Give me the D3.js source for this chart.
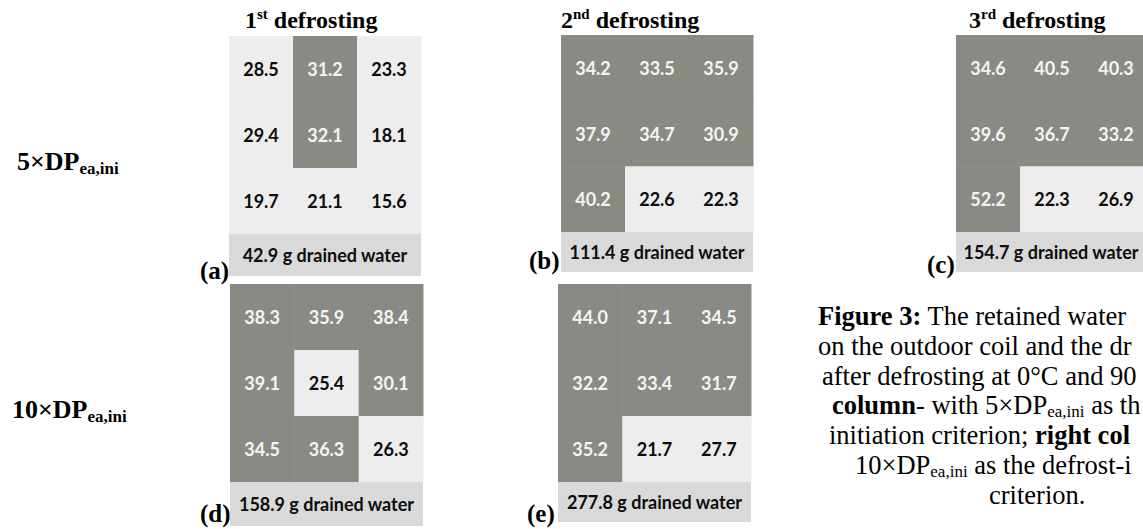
<!DOCTYPE html>
<html>
<head>
<meta charset="utf-8">
<script src="https://cdn.jsdelivr.net/npm/d3@7"></script>
<style>
  html, body { margin: 0; padding: 0; background: #ffffff; }
  svg { display: block; }
</style>
</head>
<body>
<svg id="fig" width="1143" height="529"></svg>
<script>
// Retained water (g) per coil section, rows top to bottom, columns left to right
const retainedA = [[28.5, 31.2, 23.3], [29.4, 32.1, 18.1], [19.7, 21.1, 15.6]];
const retainedB = [[34.2, 33.5, 35.9], [37.9, 34.7, 30.9], [40.2, 22.6, 22.3]];
const retainedC = [[34.6, 40.5, 40.3], [39.6, 36.7, 33.2], [52.2, 22.3, 26.9]];
const retainedD = [[38.3, 35.9, 38.4], [39.1, 25.4, 30.1], [34.5, 36.3, 26.3]];
const retainedE = [[44.0, 37.1, 34.5], [32.2, 33.4, 31.7], [35.2, 21.7, 27.7]];

// Drained water (g) collected after each defrost
const drainedWater = [42.9, 111.4, 154.7, 158.9, 277.8];
const panelLetters = ["a", "b", "c", "d", "e"];

// Column headings and row (criterion) labels
const cycleNumbers = ["1", "2", "3"];
const cycleSuffixes = ["st", "nd", "rd"];
const criterionFactors = ["5×DP", "10×DP"];
const criterionSub = "ea,ini";

// Sections holding 30 g or more are shaded dark
const retainedThreshold = [30];

const retained = [retainedA, retainedB, retainedC, retainedD, retainedE];

const W = 1143;

// Panel frames: left, top, width, grid height, drained-strip height, letter position
const frames = [
  { x: 229, y: 36, w: 192, gh: 198, dh: 42, lx: 200, ly: 279 },
  { x: 561, y: 35, w: 192, gh: 197, dh: 40, lx: 529, ly: 269 },
  { x: 956, y: 35, w: 192, gh: 197, dh: 40, lx: 927, ly: 273 },
  { x: 230, y: 284, w: 193, gh: 198, dh: 44, lx: 200, ly: 522 },
  { x: 558, y: 284, w: 193, gh: 198, dh: 40, lx: 527, ly: 522 }
];

const fill = d3.scaleThreshold().domain(retainedThreshold).range(["#ededed", "#8a8a84"]);
const ink = d3.scaleThreshold().domain(retainedThreshold).range(["#0d0d0d", "#f4f4f4"]);

const svg = d3.select("#fig");
const cellFont = "Lato, 'Open Sans', sans-serif";
const serif = "'Liberation Serif', 'Times New Roman', serif";

retained.forEach((grid, p) => {
  const f = frames[p];
  const x = d3.scaleBand().domain([0, 1, 2]).range([f.x, f.x + f.w]);
  const y = d3.scaleBand().domain([0, 1, 2]).range([f.y, f.y + f.gh]);
  const cells = grid.flatMap((row, r) => row.map((v, c) => ({ r, c, v })));
  const g = svg.append("g").attr("class", "panel-" + panelLetters[p]);

  g.selectAll("rect.cell").data(cells).join("rect")
    .attr("class", "cell")
    .attr("x", d => x(d.c))
    .attr("y", d => y(d.r))
    .attr("width", x.bandwidth() + 0.5)
    .attr("height", y.bandwidth() + 0.5)
    .attr("fill", d => fill(d.v));

  g.selectAll("text.val").data(cells).join("text")
    .attr("class", "val")
    .attr("x", d => x(d.c) + x.bandwidth() / 2)
    .attr("y", d => y(d.r) + y.bandwidth() / 2)
    .attr("text-anchor", "middle")
    .attr("dominant-baseline", "central")
    .attr("font-family", cellFont)
    .attr("font-weight", 700)
    .attr("font-size", 18)
    .attr("fill", d => ink(d.v))
    .text(d => d.v.toFixed(1));

  // drained-water strip under the grid
  g.append("rect")
    .attr("x", f.x)
    .attr("y", f.y + f.gh)
    .attr("width", f.w)
    .attr("height", f.dh)
    .attr("fill", "#d9d9d9");

  g.append("text")
    .attr("x", Math.min(f.x + f.w / 2, 1051))
    .attr("y", f.y + f.gh + f.dh / 2)
    .attr("text-anchor", "middle")
    .attr("dominant-baseline", "central")
    .attr("font-family", cellFont)
    .attr("font-weight", 700)
    .attr("font-size", 18)
    .attr("fill", "#0d0d0d")
    .text(drainedWater[p].toFixed(1) + " g drained water");

  g.append("text")
    .attr("x", f.lx)
    .attr("y", f.ly)
    .attr("font-family", serif)
    .attr("font-weight", 700)
    .attr("font-size", 25)
    .attr("fill", "#000")
    .text("(" + panelLetters[p] + ")");
});

// Defrost-cycle headings
const headingX = [245, 561, 969];
cycleNumbers.forEach((n, i) => {
  const t = svg.append("text")
    .attr("x", headingX[i])
    .attr("y", 28)
    .attr("font-family", serif)
    .attr("font-weight", 700)
    .attr("font-size", 24)
    .attr("fill", "#000");
  t.append("tspan").text(n);
  t.append("tspan").attr("font-size", 15).attr("dy", -9).text(cycleSuffixes[i]);
  t.append("tspan").attr("dy", 9).text(" defrosting");
});

// Defrost-initiation criterion labels
const criterionPos = [{ x: 17, y: 170 }, { x: 12, y: 418 }];
criterionFactors.forEach((lab, i) => {
  const t = svg.append("text")
    .attr("x", criterionPos[i].x)
    .attr("y", criterionPos[i].y)
    .attr("font-family", serif)
    .attr("font-weight", 700)
    .attr("font-size", 26)
    .attr("fill", "#000");
  t.append("tspan").text(lab);
  t.append("tspan").attr("font-size", 17).attr("dy", 4).text(criterionSub);
});

// Figure caption
const captionLines = [
  [{ t: "Figure 3:", b: true }, { t: " The retained water distribution" }],
  [{ t: "on the outdoor coil and the drained water" }],
  [{ t: "after defrosting at 0°C and 90% RH (left" }],
  [{ t: "column", b: true }, { t: "- with 5×DP" }, { t: "ea,ini", sub: true }, { t: " as the defrost-" }],
  [{ t: "initiation criterion; " }, { t: "right column", b: true }, { t: "- with" }],
  [{ t: "10×DP" }, { t: "ea,ini", sub: true }, { t: " as the defrost-initiation" }],
  [{ t: "criterion." }]
];
const captionX = [818, 818, 822, 832, 829, 855, 989];
captionLines.forEach((parts, i) => {
  const t = svg.append("text")
    .attr("x", captionX[i])
    .attr("y", 325 + i * 29.8)
    .attr("font-family", serif)
    .attr("font-size", 26.5)
    .attr("fill", "#000");
  let shifted = false;
  parts.forEach(p => {
    const s = t.append("tspan").text(p.t);
    if (p.b) s.attr("font-weight", 700);
    if (p.sub) { s.attr("font-size", 17).attr("dy", 3); shifted = true; }
    else if (shifted) { s.attr("dy", -3); shifted = false; }
  });
  // the caption column runs into the figure's right edge: drop what would not fit
  const node = t.node();
  let guard = 200;
  while (guard-- > 0) {
    const bb = node.getBBox();
    if (bb.x + bb.width <= W) break;
    const spans = t.selectAll("tspan").nodes();
    const last = spans[spans.length - 1];
    const txt = last.textContent;
    if (txt.length <= 1) { last.remove(); } else { last.textContent = txt.slice(0, -1).replace(/\s+$/, ""); }
  }
});
</script>
</body>
</html>
